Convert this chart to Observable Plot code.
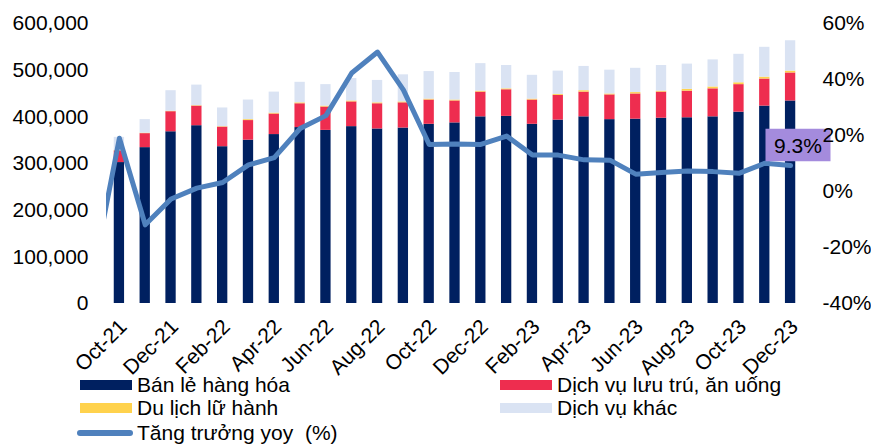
<!DOCTYPE html>
<html><head><meta charset="utf-8">
<script src="https://cdn.jsdelivr.net/npm/d3@7"></script>
<script src="https://cdn.jsdelivr.net/npm/@observablehq/plot@0.6"></script>
<style>
body{margin:0;background:#fff;font-family:"Liberation Sans",Arial,sans-serif;}
#legend{position:relative;width:871px;height:75px;font-size:21px;color:#000;}
.item{position:absolute;height:24px;display:flex;align-items:center;white-space:pre;}
.sw{width:52px;height:10px;margin-right:5px;flex:none;}
.swl{width:56px;height:6px;border-radius:3px;margin-left:-3px;margin-right:4px;flex:none;}
</style></head><body>
<div id="chart"></div>
<div id="legend"></div>
<script>
const months = ["Oct-21","Nov-21","Dec-21","Jan-22","Feb-22","Mar-22","Apr-22","May-22","Jun-22","Jul-22","Aug-22","Sep-22","Oct-22","Nov-22","Dec-22","Jan-23","Feb-23","Mar-23","Apr-23","May-23","Jun-23","Jul-23","Aug-23","Sep-23","Oct-23","Nov-23","Dec-23"];
const retail        = [302000,334000,368000,381000,336000,350000,362000,377000,371000,379000,374000,376000,384000,387000,400000,401000,384000,393000,400000,394000,395000,397000,398000,400000,410000,423000,434000];
const lodging       = [25000,30000,43000,42000,42000,42000,44000,51000,50000,53000,54000,54000,52000,47000,53000,57000,52000,53000,53000,53000,54000,56000,57000,60000,59000,58000,60000];
const travel        = [1000,1000,1000,1000,1000,2000,2000,2000,2000,2000,2000,2000,2000,2000,2000,2000,2000,2000,3000,2000,3000,2000,4000,4000,4000,4000,4000];
const otherServices = [28000,29000,44000,44000,40000,42000,45000,44000,46000,48000,48000,58000,59000,59000,59000,50000,51000,50000,52000,51000,52000,55000,54000,58000,61000,64000,65000];
const yoyMonths = ["Sep-21"].concat(months);
const yoy = [-28,19.0,-11.9,-2.7,1.2,3.2,9.5,12.1,22.5,27.1,42.3,49.8,36.3,16.8,17.0,16.8,19.8,13.0,13.0,11.3,11.2,6.2,6.8,7.3,7.1,6.5,10.1,9.3];
const seriesNames = ["Bán lẻ hàng hóa","Dịch vụ lưu trú, ăn uống","Du lịch lữ hành","Dịch vụ khác"];
const seriesColors = ["#002060","#EE2D4F","#FFD24D","#DAE3F3"];
const lineName = "Tăng trưởng yoy  (%)";
const lineColor = "#4F81BD";
const leftTicks = [0,100000,200000,300000,400000,500000,600000];
const rightTicks = [-40,-20,0,20,40,60];
const xTickMonths = ["Oct-21","Dec-21","Feb-22","Apr-22","Jun-22","Aug-22","Oct-22","Dec-22","Feb-23","Apr-23","Jun-23","Aug-23","Oct-23","Dec-23"];
const calloutMonth = "Dec-23";
const calloutText = "9.3%";
const calloutColor = "#A48BDD";

// right-axis (%) mapped onto the left-axis scale
const yMax = 600000, pMin = -40, pMax = 60;
const toY = p => (p - pMin) / (pMax - pMin) * yMax;
const fromY = v => v / yMax * (pMax - pMin) + pMin;

const seriesArrays = [retail, lodging, travel, otherServices];
const table = months.flatMap((m, i) => seriesArrays.map((arr, k) => ({
  month: m, i, i2: i + 1, series: seriesNames[k], value: arr[i]
})));
const lineData = yoyMonths.map((m, j) => ({month: m, x: j - 0.5, y: toY(yoy[j])}));
const idx = m => months.indexOf(m) + 0.5;
const callout = [{x: idx(calloutMonth), y: toY(yoy[yoyMonths.indexOf(calloutMonth)])}];
const boxSymbol = {draw(ctx) { ctx.rect(-32.5, -16.2, 65, 32.4); }};

const chart = Plot.plot({
  width: 871, height: 372,
  marginLeft: 106, marginRight: 68, marginTop: 23, marginBottom: 69,
  style: {fontFamily: "'Liberation Sans', Arial, sans-serif", color: "#000", background: "#fff", overflow: "visible"},
  x: {type: "linear", domain: [0, months.length]},
  y: {domain: [0, yMax]},
  color: {domain: seriesNames, range: seriesColors},
  marks: [
    Plot.rect(table, Plot.stackY({x1: "i", x2: "i2", y: "value", fill: "series", insetLeft: 7.75, insetRight: 7.75})),
    Plot.line(lineData, {x: "x", y: "y", stroke: lineColor, strokeWidth: 5, strokeLinejoin: "round", strokeLinecap: "round", clip: true}),
    Plot.dot(callout, {x: "x", y: "y", symbol: boxSymbol, r: 10, fill: calloutColor, stroke: null, dx: 7.4, dy: -20.4}),
    Plot.text(callout, {x: "x", y: "y", text: () => calloutText, fontSize: 21, fill: "#000", dx: 7.4, dy: -19}),
    Plot.axisY({anchor: "left", ticks: leftTicks, tickFormat: d3.format(","), tickSize: 0, tickPadding: 18, fontSize: 21}),
    Plot.axisY({anchor: "right", ticks: rightTicks.map(toY), tickFormat: v => Math.round(fromY(v)) + "%", tickSize: 0, tickPadding: 19, fontSize: 21}),
    Plot.axisX({ticks: xTickMonths.map(idx), tickFormat: v => months[Math.round(v - 0.5)], tickRotate: -45, tickSize: 0, tickPadding: 14, textAnchor: "end", lineAnchor: "top", dx: -2, fontSize: 21})
  ]
});
document.getElementById("chart").appendChild(chart);

// legend
const legend = document.getElementById("legend");
const items = [
  {name: seriesNames[0], color: seriesColors[0], left: 80, top: 0.5},
  {name: seriesNames[1], color: seriesColors[1], left: 500, top: 0.5},
  {name: seriesNames[2], color: seriesColors[2], left: 80, top: 24},
  {name: seriesNames[3], color: seriesColors[3], left: 500, top: 24},
  {name: lineName, color: lineColor, left: 80, top: 48.5, line: true}
];
for (const it of items) {
  const d = document.createElement("div");
  d.className = "item";
  d.style.left = it.left + "px";
  d.style.top = it.top + "px";
  const s = document.createElement("span");
  s.className = it.line ? "swl" : "sw";
  s.style.background = it.color;
  const t = document.createElement("span");
  t.textContent = it.name;
  d.appendChild(s); d.appendChild(t);
  legend.appendChild(d);
}
</script>
</body></html>
